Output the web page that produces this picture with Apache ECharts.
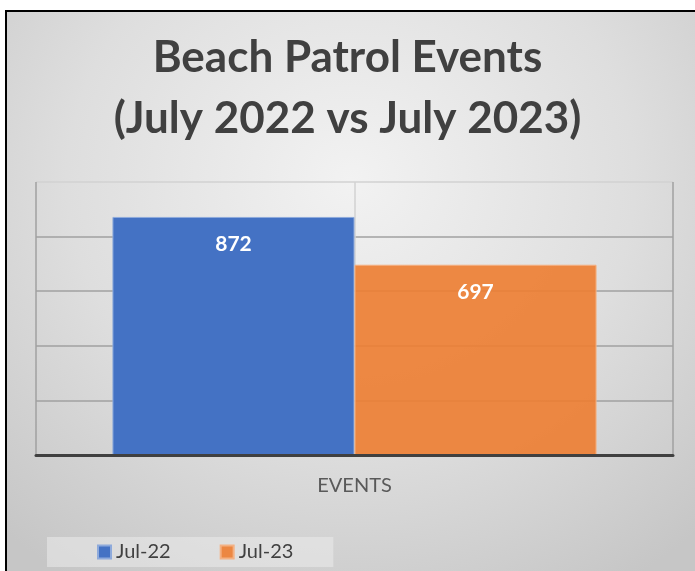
<!DOCTYPE html>
<html>
<head>
<meta charset="utf-8">
<script src="https://cdn.jsdelivr.net/npm/echarts@6/dist/echarts.min.js"></script>
<style>
  html, body { margin: 0; padding: 0; background: #fff; }
  #frame {
    position: absolute; left: 5px; top: 10px; width: 688px; height: 559px;
    border-left: 2px solid #000; border-top: 2px solid #000;
    background: radial-gradient(ellipse 75% 85% at 50% 30%, #f2f2f2 0%, #dedede 55%, #c6c6c6 100%);
  }
  #chart { position: absolute; left: 0; top: 0; width: 695px; height: 571px; }
</style>
</head>
<body>
<div id="frame"></div>
<div id="chart"></div>
<script>
// data
var categories = ['EVENTS'];
var seriesNames = ['Jul-22', 'Jul-23'];
var jul22 = [872];
var jul23 = [697];
var yMax = 1000;

var myChart = echarts.init(document.getElementById('chart'));
var font = 'Lato, "Open Sans", sans-serif';

var option = {
  backgroundColor: 'transparent',
  title: {
    text: 'Beach Patrol Events\n(July 2022 vs July 2023)',
    left: 'center',
    top: 22,
    textStyle: { fontFamily: font, fontSize: 44, fontWeight: 'bold', color: '#404040', lineHeight: 61 }
  },
  legend: {
    data: seriesNames,
    left: 47,
    top: 537,
    padding: [5, 40, 5, 50],
    itemGap: 49,
    itemWidth: 13,
    itemHeight: 13,
    backgroundColor: 'rgba(235,235,235,0.55)',
    icon: 'rect',
    textStyle: { fontFamily: font, fontSize: 20, color: '#404040' }
  },
  grid: { left: 36, right: 22, top: 182, bottom: 116 },
  xAxis: [
    {
      type: 'category',
      data: categories,
      axisTick: { show: false },
      axisLine: { lineStyle: { color: '#404040', width: 3 } },
      axisLabel: { fontFamily: font, fontSize: 20, color: '#595959', margin: 21 },
      splitLine: { show: false },
      z: 3
    },
    {
      // wall lines: left, middle and right
      type: 'category',
      data: ['', ''],
      position: 'bottom',
      axisLine: { show: false },
      axisTick: { show: false },
      axisLabel: { show: false },
      splitLine: { show: true, lineStyle: { color: ['#a0a0a0', '#d2d2d2', '#a0a0a0'], width: 1.5 } }
    }
  ],
  yAxis: {
    type: 'value',
    min: 0,
    max: yMax,
    interval: 200,
    axisLabel: { show: false },
    axisLine: { show: false },
    axisTick: { show: false },
    splitLine: {
      lineStyle: { color: ['#a0a0a0', '#a0a0a0', '#a0a0a0', '#a0a0a0', '#a0a0a0', '#d2d2d2'], width: 1.5 }
    }
  },
  series: [
    {
      name: seriesNames[0],
      type: 'bar',
      data: jul22,
      barGap: 0,
      barCategoryGap: '24%',
      itemStyle: { color: '#4472c4', borderColor: '#8eaadb', borderWidth: 1 },
      label: {
        show: true, position: 'insideTop', distance: 17,
        fontFamily: font, fontSize: 21, fontWeight: 'bold', color: '#ffffff'
      }
    },
    {
      name: seriesNames[1],
      type: 'bar',
      data: jul23,
      itemStyle: { color: 'rgba(237,125,49,0.9)', borderColor: '#f4b183', borderWidth: 1 },
      label: {
        show: true, position: 'insideTop', distance: 17,
        fontFamily: font, fontSize: 21, fontWeight: 'bold', color: '#ffffff'
      }
    }
  ]
};

myChart.setOption(option);
</script>
</body>
</html>
